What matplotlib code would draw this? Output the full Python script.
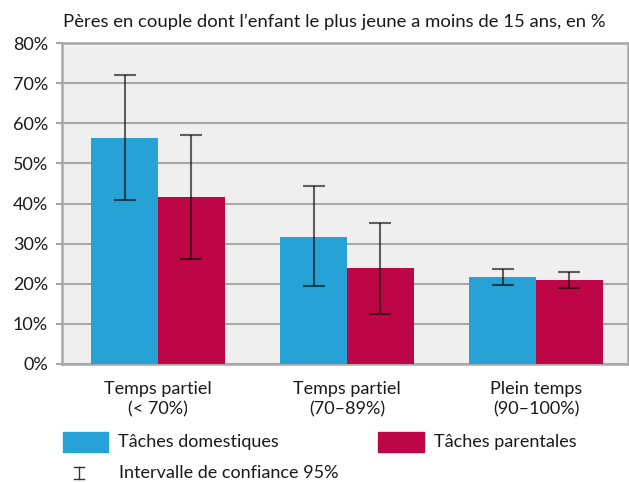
import matplotlib
matplotlib.use("Agg")
import matplotlib.pyplot as plt
import numpy as np
from matplotlib.patches import Rectangle
from matplotlib.lines import Line2D

plt.rcParams['font.family'] = ['Lato', 'DejaVu Sans']

categories = ["Temps partiel\n(< 70%)", "Temps partiel\n(70–89%)", "Plein temps\n(90–100%)"]
series_names = ["Tâches domestiques", "Tâches parentales"]
domestiques = [56.4, 31.7, 21.7]
dom_low = [40.9, 19.4, 19.7]
dom_high = [72.0, 44.3, 23.8]
parentales = [41.6, 23.9, 20.9]
par_low = [26.2, 12.5, 18.9]
par_high = [57.1, 35.2, 22.9]
yticks = [0, 10, 20, 30, 40, 50, 60, 70, 80]
title = "Pères en couple dont l’enfant le plus jeune a moins de 15 ans, en %"
ci_label = "Intervalle de confiance 95%"

W, H = 629, 482
fig = plt.figure(figsize=(W/100, H/100), dpi=100)
ax = fig.add_axes([62/W, 1-364/H, (628-62)/W, (364-43)/H])
ax.set_facecolor('#efefef')

blue = '#27a2d6'
red = '#be0646'
x = np.arange(len(categories))
bw = 0.354
ax.bar(x - bw/2, domestiques, bw, color=blue, zorder=3)
ax.bar(x + bw/2, parentales, bw, color=red, zorder=3)

def err(vals, lo, hi):
    v = np.array(vals); return [v - np.array(lo), np.array(hi) - v]

ax.errorbar(x - bw/2, domestiques, yerr=err(domestiques, dom_low, dom_high), fmt='none',
            ecolor='#000000', alpha=0.6, elinewidth=1.5, capsize=8, capthick=1.5, zorder=4)
ax.errorbar(x + bw/2, parentales, yerr=err(parentales, par_low, par_high), fmt='none',
            ecolor='#000000', alpha=0.6, elinewidth=1.5, capsize=8, capthick=1.5, zorder=4)

fs = 13
ax.set_ylim(0, 80)
ax.set_xlim(-0.508, 2.487)
ax.set_yticks(yticks)
ax.set_yticklabels([f"{t}%" for t in yticks], fontsize=fs, color='#1a1a1a')
ax.set_xticks(x)
ax.set_xticklabels(categories, fontsize=fs, color='#1a1a1a', linespacing=1.3)
ax.tick_params(axis='x', length=0, pad=12.5)
ax.tick_params(axis='y', length=4, width=1.5, color='#a8a8a8', pad=6)
ax.yaxis.grid(True, color='#a8a8a8', linewidth=1.5, zorder=0)
ax.set_axisbelow(True)
for s in ax.spines.values():
    s.set_color('#a8a8a8')
    s.set_linewidth(1.8)

fig.text(63/W, 1-22/H, title, fontsize=13.3, color='#1a1a1a', va='center', ha='left')

# legend
fig.patches.append(Rectangle((63/W, 1-452/H), 45/W, 20/H, transform=fig.transFigure, color=blue))
fig.text(118/W, 1-442/H, series_names[0], fontsize=fs, color='#1a1a1a', va='center')
fig.patches.append(Rectangle((378/W, 1-452/H), 46/W, 20/H, transform=fig.transFigure, color=red))
fig.text(434/W, 1-442/H, series_names[1], fontsize=fs, color='#1a1a1a', va='center')
cx = 79
for (xs, ys) in [([cx, cx], [467, 479]), ([cx-5, cx+5], [467, 467]), ([cx-5, cx+5], [479, 479])]:
    fig.lines.append(Line2D([v/W for v in xs], [1-v/H for v in ys], transform=fig.transFigure,
                            color='#333333', linewidth=1.0))
fig.text(119/W, 1-473/H, ci_label, fontsize=fs, color='#1a1a1a', va='center')

fig.savefig('out.png', dpi=100)
